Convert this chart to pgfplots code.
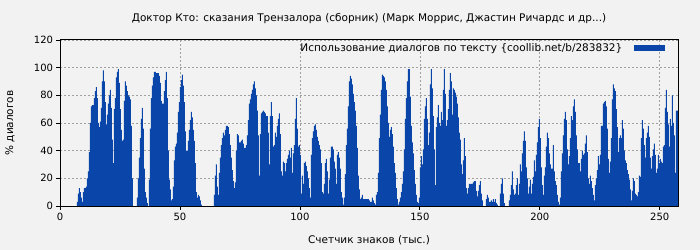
\documentclass[border=0pt]{standalone}
\usepackage{fontspec}
\setmainfont{DejaVu Sans}
\usepackage{pgfplots}
\pgfplotsset{compat=1.18}
\usepackage{pgfplotstable}
\definecolor{barblue}{RGB}{10,70,170}
\definecolor{bg}{RGB}{242,242,242}
\definecolor{gridgray}{RGB}{160,160,160}

% share of dialogue, one value per 1/2.4 thousand characters
\pgfplotstableread[header=false,row sep=\\]{
0\\0\\0\\0\\0\\0\\0\\0\\0\\0\\0\\0\\0\\0\\0\\0\\0\\
3\\9\\13\\10\\6\\3\\10\\13\\13\\14\\
20\\25\\39\\60\\72\\73\\73\\78\\83\\86\\
78\\60\\57\\61\\71\\90\\98\\90\\75\\59\\
66\\74\\80\\84\\71\\48\\31\\70\\78\\93\\
97\\99\\89\\70\\55\\47\\48\\76\\90\\87\\
83\\80\\79\\77\\58\\20\\0\\0\\0\\0\\
6\\20\\35\\49\\63\\71\\56\\27\\10\\6\\
2\\0\\19\\56\\78\\87\\93\\97\\97\\96\\
96\\96\\94\\89\\76\\74\\74\\
83\\91\\97\\78\\40\\19\\12\\4\\5\\14\\
33\\43\\45\\53\\68\\75\\86\\91\\95\\87\\
75\\54\\40\\40\\47\\55\\62\\68\\64\\55\\
47\\31\\10\\6\\8\\7\\4\\1\\0\\0\\
0\\0\\0\\0\\0\\0\\0\\0\\0\\0\\
8\\22\\30\\14\\8\\24\\35\\44\\49\\53\\
51\\55\\58\\58\\57\\52\\44\\35\\26\\18\\
13\\17\\40\\52\\51\\46\\46\\47\\48\\45\\
42\\42\\44\\51\\62\\74\\77\\81\\84\\88\\
90\\85\\80\\69\\51\\22\\52\\67\\68\\69\\
68\\67\\65\\65\\
53\\30\\65\\75\\65\\43\\44\\53\\50\\58\\
63\\67\\52\\25\\22\\32\\31\\25\\31\\34\\
37\\40\\35\\42\\24\\38\\44\\63\\78\\56\\
43\\44\\37\\9\\22\\16\\31\\32\\29\\25\\
20\\13\\6\\37\\49\\54\\58\\59\\55\\50\\
47\\44\\41\\31\\10\\9\\16\\31\\34\\25\\
9\\19\\35\\43\\43\\41\\32\\27\\16\\37\\
39\\35\\27\\10\\6\\1\\6\\23\\44\\56\\
72\\90\\94\\92\\88\\81\\75\\69\\58\\42\\
22\\12\\5\\6\\8\\5\\5\\5\\5\\5\\
5\\4\\3\\3\\
6\\4\\2\\1\\8\\10\\24\\49\\66\\84\\
95\\94\\93\\90\\84\\72\\60\\50\\55\\57\\
52\\43\\31\\24\\13\\5\\1\\3\\6\\10\\
16\\25\\41\\63\\78\\90\\99\\99\\79\\58\\
46\\38\\26\\16\\8\\3\\2\\6\\28\\36\\
30\\41\\63\\72\\78\\63\\44\\53\\88\\99\\
85\\65\\41\\15\\57\\64\\73\\60\\58\\68\\
62\\84\\99\\81\\58\\62\\70\\84\\96\\90\\
66\\85\\84\\82\\79\\74\\64\\53\\48\\30\\
23\\33\\49\\36\\13\\9\\13\\16\\16\\16\\
16\\17\\18\\18\\
11\\7\\11\\15\\18\\9\\4\\0\\0\\0\\
5\\8\\6\\3\\3\\4\\3\\5\\3\\5\\
2\\1\\0\\0\\9\\16\\20\\9\\2\\0\\
0\\0\\0\\4\\8\\15\\25\\12\\8\\9\\
15\\20\\8\\16\\30\\25\\38\\47\\54\\47\\
28\\20\\9\\14\\19\\9\\16\\21\\33\\25\\
37\\46\\57\\63\\49\\28\\15\\8\\22\\28\\
43\\53\\49\\38\\30\\27\\27\\44\\25\\18\\
15\\8\\3\\1\\6\\25\\38\\51\\63\\68\\
62\\41\\30\\36\\49\\65\\62\\72\\77\\68\\
51\\41\\31\\31\\
25\\34\\40\\37\\38\\45\\51\\39\\20\\16\\
22\\18\\13\\8\\4\\15\\20\\26\\36\\30\\
37\\58\\58\\74\\75\\76\\72\\56\\34\\24\\
32\\49\\77\\88\\85\\83\\70\\57\\39\\49\\
51\\49\\62\\56\\40\\33\\31\\26\\23\\19\\
12\\4\\11\\20\\18\\9\\8\\7\\10\\22\\
21\\49\\62\\56\\44\\35\\49\\53\\58\\50\\
35\\27\\36\\41\\45\\37\\24\\27\\37\\31\\
34\\32\\31\\43\\44\\71\\84\\68\\59\\43\\
63\\58\\80\\60\\51\\24\\69\\69\\
69\\
}\usage

\begin{document}
\begin{tikzpicture}
\fill[bg] (0,0) rectangle (700bp,250bp);
\useasboundingbox (0,0) rectangle (700bp,250bp);
\begin{axis}[
  at={(60bp,44bp)}, anchor=south west,
  scale only axis, width=618bp, height=166bp,
  xmin=0, xmax=257.6, ymin=0, ymax=120,
  xtick={0,50,100,150,200,250},
  ytick={0,20,40,60,80,100,120},
  tick align=outside, xtick pos=left, ytick pos=left,
  major tick length=3.5bp,
  tick style={black, line width=0.8bp},
  axis line style={black, line width=1bp},
  grid=major,
  major grid style={gridgray, dash pattern=on 2bp off 2bp, line width=0.7bp},
  axis background/.style={fill=bg},
  font=\fontsize{10.5bp}{12bp}\selectfont,
  ticklabel style={font=\fontsize{10bp}{12bp}\selectfont},
  /pgf/number format/assume math mode=true,
  title={Доктор Кто: сказания Трензалора (сборник) (Марк Моррис, Джастин Ричардс и др...)},
  title style={at={(axis description cs:0.5,1.094)}, anchor=center, inner sep=0pt},
  xlabel={Счетчик знаков (тыс.)},
  xlabel style={at={(axis description cs:0.5,-0.205)}, anchor=center, inner sep=0pt},
  ylabel={\% диалогов},
  ylabel style={at={(axis description cs:-0.081,0.5)}, anchor=center, inner sep=0pt},
  legend plot pos=right,
  legend cell align=right,
  legend style={at={(axis description cs:1,1)}, anchor=north east,
    draw=none, fill=none, inner sep=0pt, xshift=-13bp, yshift=-1.5bp,
    font=\fontsize{10.5bp}{12bp}\selectfont,
    nodes={inner sep=1.5bp}},
  legend image code/.code={\path (0bp,0bp); \fill[barblue] (10bp,-3bp) rectangle (41bp,3bp);},
]
\addplot[const plot, fill=barblue, draw=none]
  table[x expr=\coordindex/2.4, y index=0] {\usage} \closedcycle;
\addlegendentry{Использование диалогов по тексту \{coollib.net/b/283832\}}
\end{axis}
\end{tikzpicture}
\end{document}
